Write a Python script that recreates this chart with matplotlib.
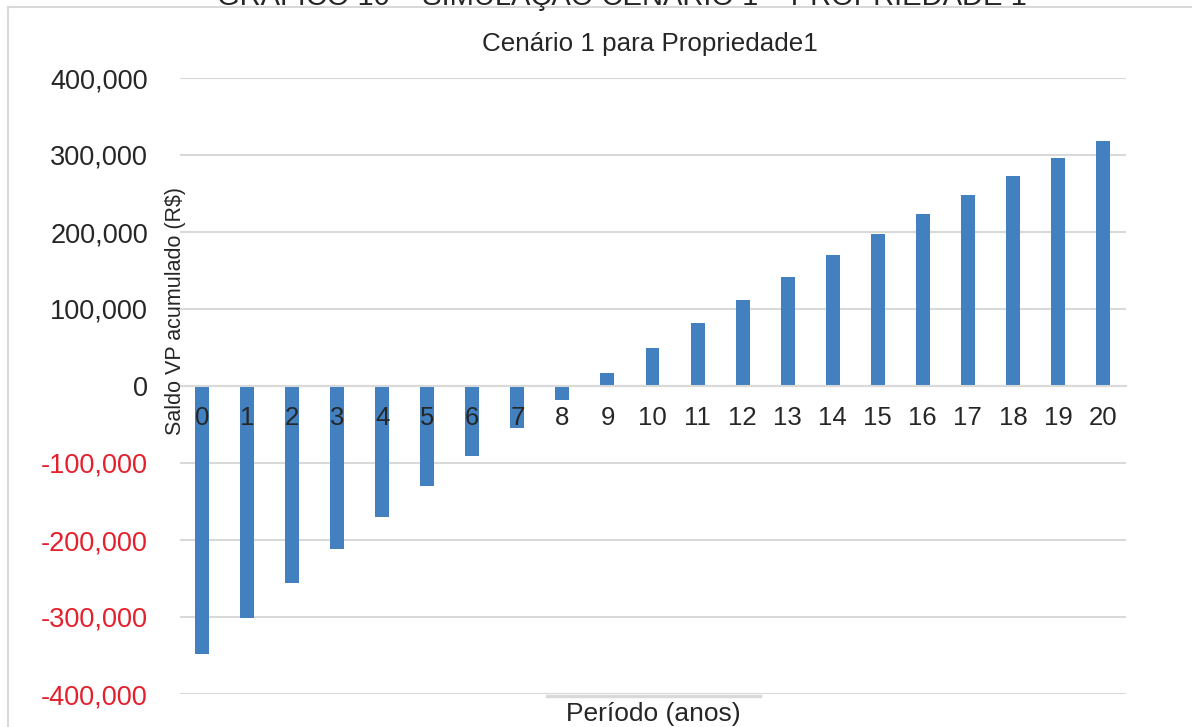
import matplotlib.pyplot as plt
from matplotlib.lines import Line2D
from matplotlib.ticker import FuncFormatter

# accumulated present value per year (R$)
periodos = list(range(21))
saldo = [
    -348000, -301000, -256000, -212000, -170000, -130000, -91000,
    -55000, -18000, 17000, 49000, 82000, 112000, 142000, 170000,
    197000, 223000, 248000, 273000, 296000, 318000,
]
yticks = [-400000, -300000, -200000, -100000, 0, 100000, 200000, 300000, 400000]

bar_color = "#4280c0"
txt_color = "#262626"
neg_color = "#e3202b"
grid_color = "#d9d9d9"

plt.rcParams["font.family"] = ["Liberation Sans", "DejaVu Sans"]

fig = plt.figure(figsize=(11.92, 7.27), dpi=100)
ax = fig.add_axes([179.5 / 1192, 33 / 727, 946 / 1192, 616 / 727])

ax.bar(periodos, saldo, width=0.31, color=bar_color, zorder=2)
ax.set_xlim(-0.5, 20.5)
ax.set_ylim(-400000, 400000)
ax.set_yticks(yticks)
ax.yaxis.set_major_formatter(FuncFormatter(lambda v, p: f"{int(v):,}"))
ax.grid(axis="y", color=grid_color, linewidth=1.5, zorder=0)
ax.set_axisbelow(True)

for s in ["top", "right", "left"]:
    ax.spines[s].set_visible(False)
ax.spines["bottom"].set_position(("data", 0))
ax.spines["bottom"].set_color(grid_color)
ax.spines["bottom"].set_linewidth(1.5)

# category labels sit on the zero line, over the bars
ax.set_xticks([])
for p in periodos:
    ax.annotate(str(p), (p, 0), xytext=(0, -23), textcoords="offset points",
                ha="center", va="center", fontsize=18.5, color=txt_color, zorder=3)

ax.tick_params(axis="y", length=0, pad=22.7, labelsize=19.5, labelcolor=txt_color)
for lab, v in zip(ax.get_yticklabels(), yticks):
    if v < 0:
        lab.set_color(neg_color)

fig.text(175 / 1192, 1 - 311 / 727, "Saldo VP acumulado (R$)", rotation=90,
         ha="center", va="center", fontsize=15.5, color=txt_color)
fig.text(650 / 1192, 1 - 44 / 727, "Cenário 1 para Propriedade1",
         ha="center", va="center", fontsize=18.7, color=txt_color)
fig.text(653 / 1192, 1 - 714 / 727, "Período (anos)",
         ha="center", va="center", fontsize=19, color=txt_color)
fig.text(622 / 1192, 1 - 5 / 727, "GRÁFICO 10 – SIMULAÇÃO CENÁRIO 1 – PROPRIEDADE 1",
         ha="center", va="baseline", fontsize=21, color=txt_color)

# chart frame edges
fig.add_artist(Line2D([8 / 1192, 1], [1 - 7 / 727] * 2, color=grid_color, lw=1.5))
fig.add_artist(Line2D([8 / 1192] * 2, [0, 1 - 7 / 727], color=grid_color, lw=1.5))
fig.add_artist(Line2D([547 / 1192, 760 / 1192], [1 - 696 / 727] * 2, color=grid_color, lw=2.5))

fig.savefig("out.png", dpi=100)
